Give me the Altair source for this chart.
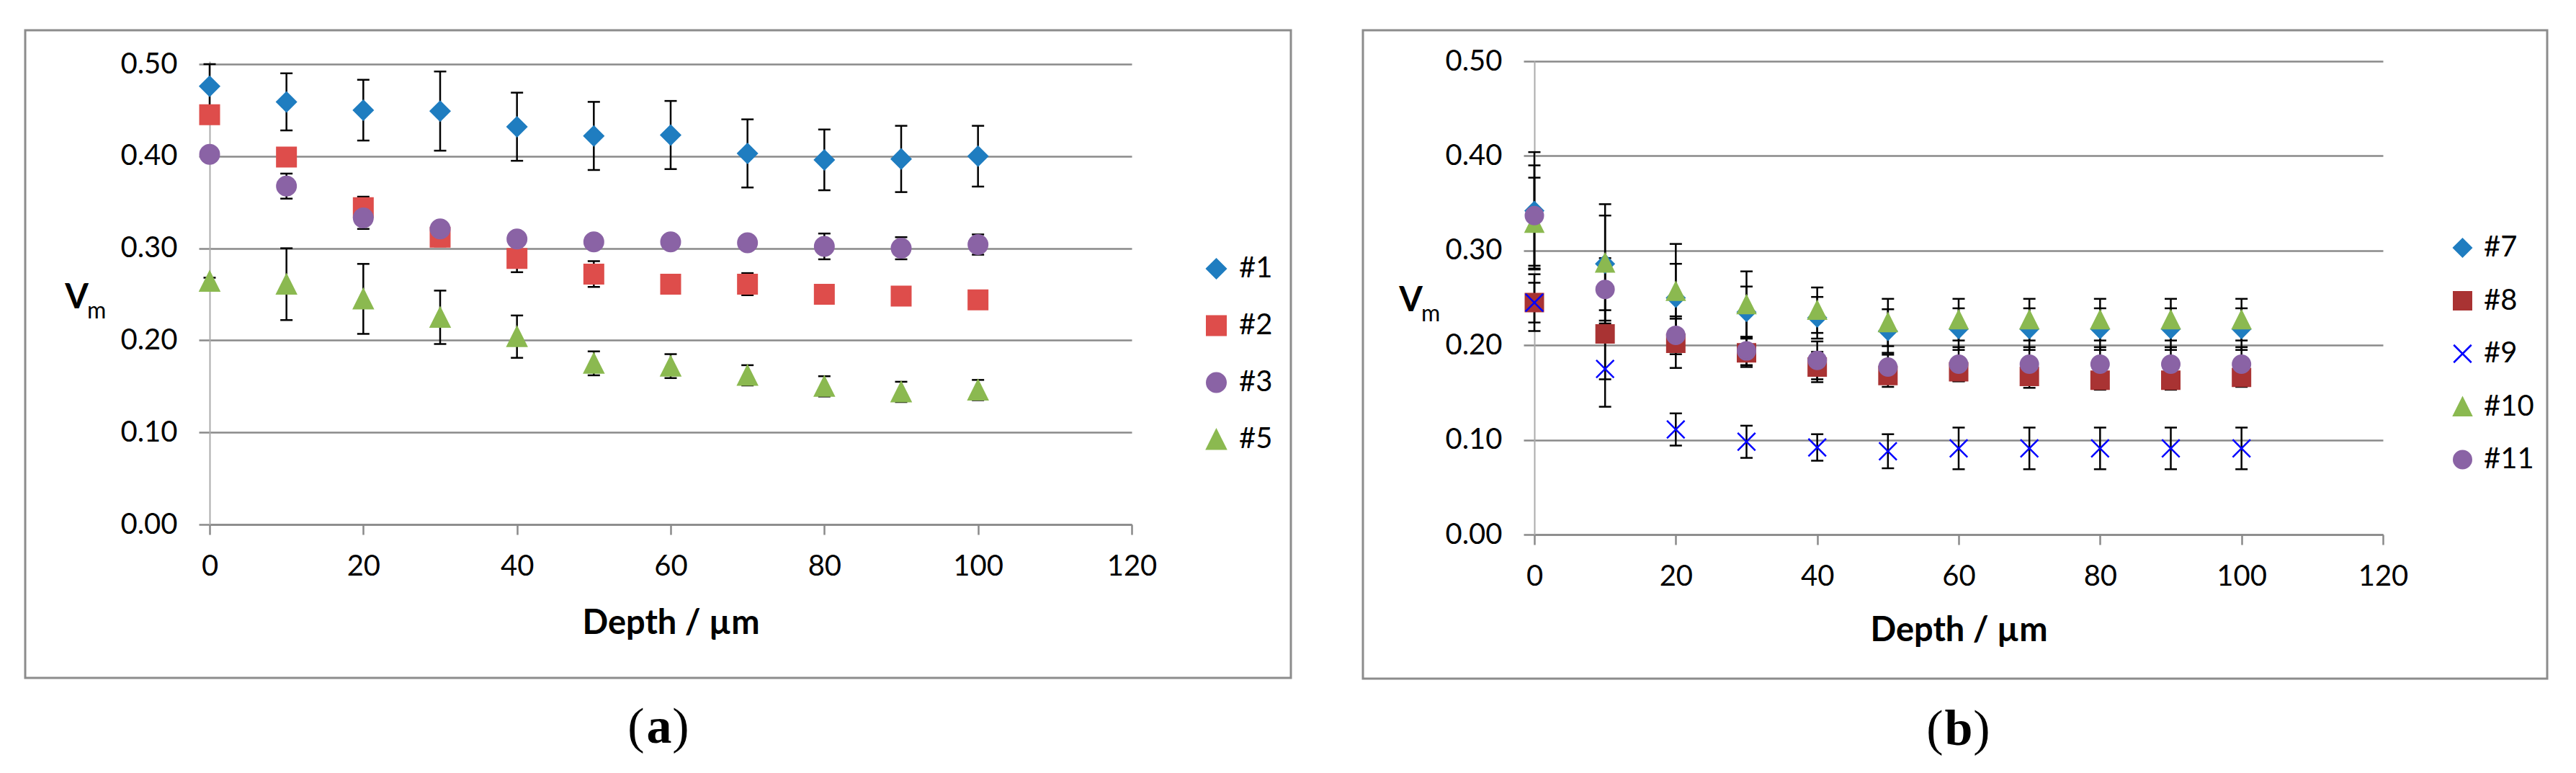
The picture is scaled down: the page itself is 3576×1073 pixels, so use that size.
import altair as alt
import pandas as pd

# ---------------- data ----------------
depth = [0, 10, 20, 30, 40, 50, 60, 70, 80, 90, 100]
x_ticks = [0, 20, 40, 60, 80, 100, 120]
y_ticks = [0.0, 0.1, 0.2, 0.3, 0.4, 0.5]

# panel (a)
names_a = ["#1", "#2", "#3", "#5"]
a1 = [0.476, 0.459, 0.450, 0.449, 0.432, 0.422, 0.423, 0.403, 0.396, 0.397, 0.400]
a1_err = [0.024, 0.031, 0.033, 0.043, 0.037, 0.037, 0.037, 0.037, 0.033, 0.036, 0.033]
a2 = [0.445, 0.399, 0.344, 0.312, 0.289, 0.272, 0.261, 0.261, 0.250, 0.248, 0.244]
a2_err = [0.005, 0.005, 0.012, 0.010, 0.015, 0.014, 0.005, 0.012, 0.005, 0.005, 0.005]
a3 = [0.402, 0.3675, 0.333, 0.321, 0.310, 0.307, 0.307, 0.306, 0.302, 0.300, 0.304]
a3_err = [0.005, 0.0136, 0.012, 0.008, 0.008, 0.008, 0.008, 0.008, 0.014, 0.012, 0.011]
a5 = [0.264, 0.261, 0.245, 0.225, 0.204, 0.175, 0.172, 0.162, 0.150, 0.144, 0.146]
a5_err = [0.004, 0.039, 0.038, 0.029, 0.023, 0.013, 0.013, 0.011, 0.011, 0.011, 0.011]

# panel (b)
names_b = ["#7", "#8", "#9", "#10", "#11"]
b7 = [0.342, 0.286, 0.250, 0.235, 0.229, 0.215, 0.217, 0.217, 0.217, 0.217, 0.217]
b7_err = [0.062, 0.063, 0.036, 0.027, 0.022, 0.023, 0.022, 0.022, 0.022, 0.022, 0.022]
b8 = [0.245, 0.212, 0.202, 0.192, 0.177, 0.168, 0.172, 0.167, 0.163, 0.163, 0.166]
b8_err = [0.030, 0.048, 0.026, 0.015, 0.016, 0.012, 0.010, 0.012, 0.010, 0.010, 0.010]
b9 = [0.245, 0.175, 0.111, 0.098, 0.092, 0.088, 0.091, 0.091, 0.091, 0.091, 0.091]
b9_err = [0.021, 0.040, 0.017, 0.017, 0.014, 0.018, 0.022, 0.022, 0.022, 0.022, 0.022]
b10 = [0.329, 0.287, 0.257, 0.243, 0.237, 0.224, 0.227, 0.227, 0.227, 0.227, 0.227]
b10_err = [0.048, 0.050, 0.050, 0.035, 0.024, 0.025, 0.022, 0.022, 0.022, 0.022, 0.022]
b11 = [0.337, 0.259, 0.2105, 0.194, 0.184, 0.177, 0.180, 0.180, 0.180, 0.180, 0.180]
b11_err = [0.053, 0.033, 0.020, 0.015, 0.020, 0.013, 0.018, 0.018, 0.018, 0.018, 0.018]

# styles
BLUE, RED, PURPLE, GREEN, DARKRED, XBLUE = "#1F7DC0", "#DE4D4B", "#8A63A5", "#8BB950", "#A93333", "#0000FF"
TRI = "M0,-1L1,1L-1,1Z"
XSHAPE = "M-1,-1L1,1M-1,1L1,-1"
fills_a = [BLUE, RED, PURPLE, GREEN]
strokes_a = [BLUE, RED, PURPLE, GREEN]
shapes_a = ["diamond", "square", "circle", TRI]
fills_b = [BLUE, DARKRED, "transparent", GREEN, PURPLE]
strokes_b = [BLUE, DARKRED, XBLUE, GREEN, PURPLE]
shapes_b = ["diamond", "square", XSHAPE, TRI, "circle"]

GRID = "#8A8A8A"
FONT = "Lato"


def table(names, values, errors):
    rows = []
    for n, vals, errs in zip(names, values, errors):
        for d, v, e in zip(depth, vals, errs):
            rows.append({"depth": d, "series": n, "v": v, "lo": v - e, "hi": v + e})
    return pd.DataFrame(rows)


df_a = table(names_a, [a1, a2, a3, a5], [a1_err, a2_err, a3_err, a5_err])
df_b = table(names_b, [b7, b8, b9, b10, b11], [b7_err, b8_err, b9_err, b10_err, b11_err])
one = pd.DataFrame({"k": [0]})


def txt(text, pos, size, weight="normal", font=FONT, align="center", baseline="alphabetic"):
    return alt.Chart(one).mark_text(text=text, font=font, fontSize=size, fontWeight=weight, align=align,
                                    baseline=baseline, color="black").encode(
        x=alt.value(pos[0]), y=alt.value(pos[1]))


def panel(df, names, fills, strokes, shapes, width, height, ymax, size,
          leg_x, leg_y, row_pad, lab_off, title_y, v_pos, m_pos, letter, letter_x, letter_y, frame):
    x_axis = alt.Axis(values=x_ticks, title="Depth / µm", grid=False, domainColor=GRID, domainWidth=2.5,
                      tickColor=GRID, tickWidth=2.5, tickSize=14, labelFont=FONT, labelFontSize=40,
                      labelColor="black", labelPadding=24, titleFont=FONT, titleFontSize=47,
                      titleFontWeight="bold", titleColor="black", titleY=title_y,
                      titleBaseline="alphabetic", labelFlush=False)
    y_axis = alt.Axis(values=y_ticks, format=".2f", title=None, grid=True, gridColor=GRID, gridWidth=2.5,
                      domainColor="#ABABAB", domainWidth=2, tickColor=GRID, tickWidth=2.5, tickSize=15,
                      labelFont=FONT, labelFontSize=40, labelColor="black", labelPadding=30,
                      labelFlush=False)
    xs = alt.Scale(domain=[0, 120], nice=False)
    ys = alt.Scale(domain=[0, ymax], nice=False, zero=False)
    leg = alt.Legend(orient="none", legendX=leg_x, legendY=leg_y, title=None, symbolSize=size,
                     symbolStrokeWidth=2.5, labelFont=FONT, labelFontSize=40, labelColor="black",
                     rowPadding=row_pad, labelOffset=lab_off, padding=0, labelLimit=0)
    base = alt.Chart(df)
    enc_x = alt.X("depth:Q", scale=xs, axis=x_axis)
    rules = base.mark_rule(color="black", strokeWidth=2.5).encode(
        x=enc_x, y=alt.Y("lo:Q", scale=ys, axis=y_axis), y2="hi:Q")
    cap_lo = base.mark_tick(orient="horizontal", size=17, thickness=2.5, color="black", opacity=1).encode(
        x=enc_x, y=alt.Y("lo:Q", scale=ys, axis=y_axis))
    cap_hi = base.mark_tick(orient="horizontal", size=17, thickness=2.5, color="black", opacity=1).encode(
        x=enc_x, y=alt.Y("hi:Q", scale=ys, axis=y_axis))
    pts = base.mark_point(opacity=1, strokeWidth=2.5, size=size).encode(
        x=enc_x,
        y=alt.Y("v:Q", scale=ys, axis=y_axis),
        fill=alt.Fill("series:N", scale=alt.Scale(domain=names, range=fills), legend=leg),
        stroke=alt.Stroke("series:N", scale=alt.Scale(domain=names, range=strokes), legend=leg),
        shape=alt.Shape("series:N", scale=alt.Scale(domain=names, range=shapes), legend=leg),
        order=alt.Order("idx:Q"),
    ).transform_calculate(idx="datum.depth")
    frame_rect = alt.Chart(one).mark_rect(filled=False, stroke="#8C8C8C", strokeWidth=3).encode(
        x=alt.value(frame[0]), x2=alt.value(frame[1]), y=alt.value(frame[2]), y2=alt.value(frame[3]))
    v_txt = txt("V", v_pos, 47, weight="bold")
    m_txt = txt("m", m_pos, 32, align="left")
    serif = "Liberation Serif"
    p_open = txt("(", (letter_x[0], letter_y), 70, font=serif, baseline="middle")
    p_let = txt(letter, (letter_x[1], letter_y), 70, weight="bold", font=serif, baseline="middle")
    p_close = txt(")", (letter_x[2], letter_y), 70, font=serif, baseline="middle")
    return alt.layer(frame_rect, rules, cap_lo, cap_hi, pts, v_txt, m_txt, p_open, p_let, p_close).properties(
        width=width, height=height)


pa = panel(df_a, names_a, fills_a, strokes_a, shapes_a, 1280, 643, 0.5 + 4 / 1278, 702,
           1377.5, 268, 39, 11.5, 151, (-184.5, 343), (-170, 357), "a", (592, 624, 654), 925,
           (-256, 1501, -43, 856))
pb = panel(df_b, names_b, fills_b, strokes_b, shapes_b, 1178, 657, 0.5, 600,
           1268.5, 239, 33.5, 9.5, 147, (-171.5, 347), (-157, 361), "b", (556, 589, 621), 928,
           (-238, 1406, -43, 857))

chart = alt.hconcat(pa, pb, spacing=559, bounds="flush").resolve_scale(
    x="independent", y="independent", fill="independent", stroke="independent", shape="independent"
).properties(
    padding={"left": 25, "top": 32, "right": 5, "bottom": 5}, background="white"
).configure_view(strokeWidth=0)

chart.save("out.html", embed_options={"renderer": "svg", "actions": False})
